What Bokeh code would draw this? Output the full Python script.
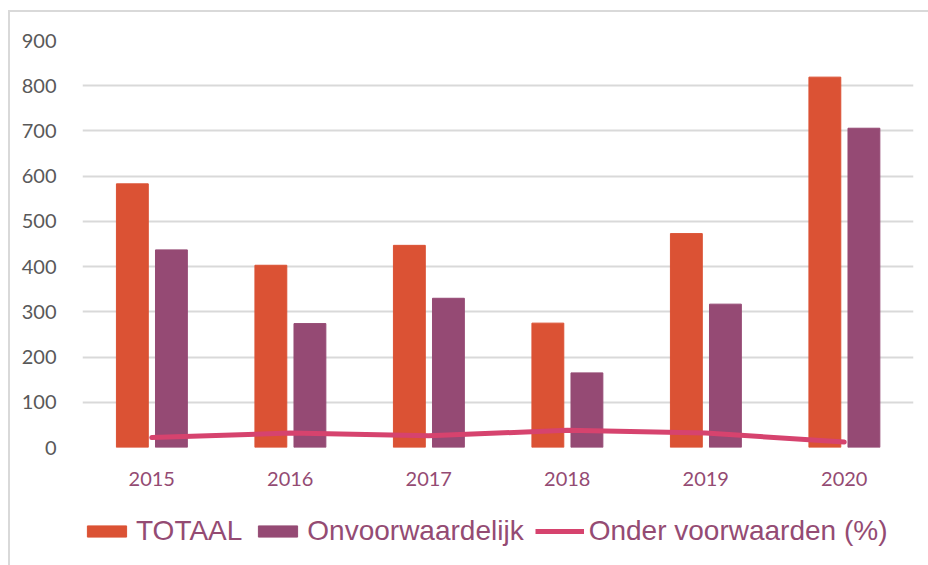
from bokeh.plotting import figure
from bokeh.layouts import column
from bokeh.models import (ColumnDataSource, FixedTicker, Legend, LegendItem,
                          Range1d, FactorRange)
from bokeh.transform import dodge
from bokeh.embed import file_html
from bokeh.resources import INLINE

# ---- data ----
years = ["2015", "2016", "2017", "2018", "2019", "2020"]
totaal = [583, 403, 447, 275, 473, 819]
onvoorwaardelijk = [437, 274, 330, 165, 317, 706]
onder_voorwaarden = [22, 32, 26, 38, 32, 12]
y_ticks = [0, 100, 200, 300, 400, 500, 600, 700, 800, 900]
series_names = ["TOTAAL", "Onvoorwaardelijk", "Onder voorwaarden (%)"]

# ---- styles ----
C_TOT = "#DB5234"
C_ONV = "#954A74"
C_LINE = "#D6436E"
C_TXT = "#944B73"
TICK_FONT = "Lato"
LEG_FONT = "Liberation Sans"

src = ColumnDataSource(dict(year=years, totaal=totaal, onv=onvoorwaardelijk,
                            ond=onder_voorwaarden))

p = figure(x_range=FactorRange(*years, range_padding=0),
           y_range=Range1d(0, 900),
           width=918, height=485, output_backend="svg", toolbar_location=None,
           min_border_left=72, min_border_right=15, min_border_top=28,
           min_border_bottom=50)
p.outline_line_color = None
p.background_fill_color = "white"
p.border_fill_color = "white"

p.vbar(x=dodge("year", -0.14, range=p.x_range), top="totaal", width=0.23,
       source=src, fill_color=C_TOT, line_color=C_TOT)
p.vbar(x=dodge("year", 0.142, range=p.x_range), top="onv", width=0.23,
       source=src, fill_color=C_ONV, line_color=C_ONV)
p.line(x="year", y="ond", source=src, line_width=5, line_color=C_LINE,
       line_cap="round", line_join="round")

# grid
p.xgrid.grid_line_color = None
p.ygrid.grid_line_color = "#D9D9D9"
p.ygrid.grid_line_width = 2
p.yaxis.ticker = FixedTicker(ticks=y_ticks)
p.yaxis.minor_tick_line_color = None

# axes
for ax in (p.xaxis[0], p.yaxis[0]):
    ax.axis_line_color = None
    ax.major_tick_line_color = None
    ax.major_label_text_font = TICK_FONT
    ax.major_label_text_font_size = "20px"
p.yaxis.major_label_text_color = "#595959"
p.yaxis.major_label_standoff = 20
p.xaxis.major_label_text_color = C_TXT
p.xaxis.major_label_standoff = 18

# ---- legend strip (own small figure, swatches only, nothing plotted) ----
lg = figure(width=918, height=68, output_backend="svg", toolbar_location=None,
            x_range=Range1d(0, 1), y_range=Range1d(0, 1),
            x_axis_type=None, y_axis_type=None, min_border=0)
lg.outline_line_color = None
lg.grid.grid_line_color = None
lg.background_fill_color = "white"
lg.border_fill_color = "white"
nothing = ColumnDataSource(dict(x=[float("nan")], y=[float("nan")]))
s_tot = lg.vbar(x="x", top="y", width=0.1, source=nothing,
                fill_color=C_TOT, line_color=C_TOT)
s_onv = lg.vbar(x="x", top="y", width=0.1, source=nothing,
                fill_color=C_ONV, line_color=C_ONV)
s_line = lg.line(x="x", y="y", source=nothing, line_width=5, line_color=C_LINE)

legend = Legend(items=[LegendItem(label=series_names[0], renderers=[s_tot]),
                       LegendItem(label=series_names[1], renderers=[s_onv]),
                       LegendItem(label=series_names[2], renderers=[s_line])],
                orientation="horizontal", location=(0, 18),
                padding=0, margin=0, spacing=11,
                glyph_width=49, glyph_height=14, label_standoff=5,
                label_text_font=LEG_FONT, label_text_font_size="28px",
                label_text_color=C_TXT,
                border_line_color=None, background_fill_alpha=0)
lg.add_layout(legend)

layout = column(p, lg, spacing=0, margin=(10, 0, 0, 8),
                styles={"border-top": "2px solid #D9D9D9",
                        "border-left": "2px solid #D9D9D9"})

open("out.html", "w").write(file_html(layout, INLINE))
